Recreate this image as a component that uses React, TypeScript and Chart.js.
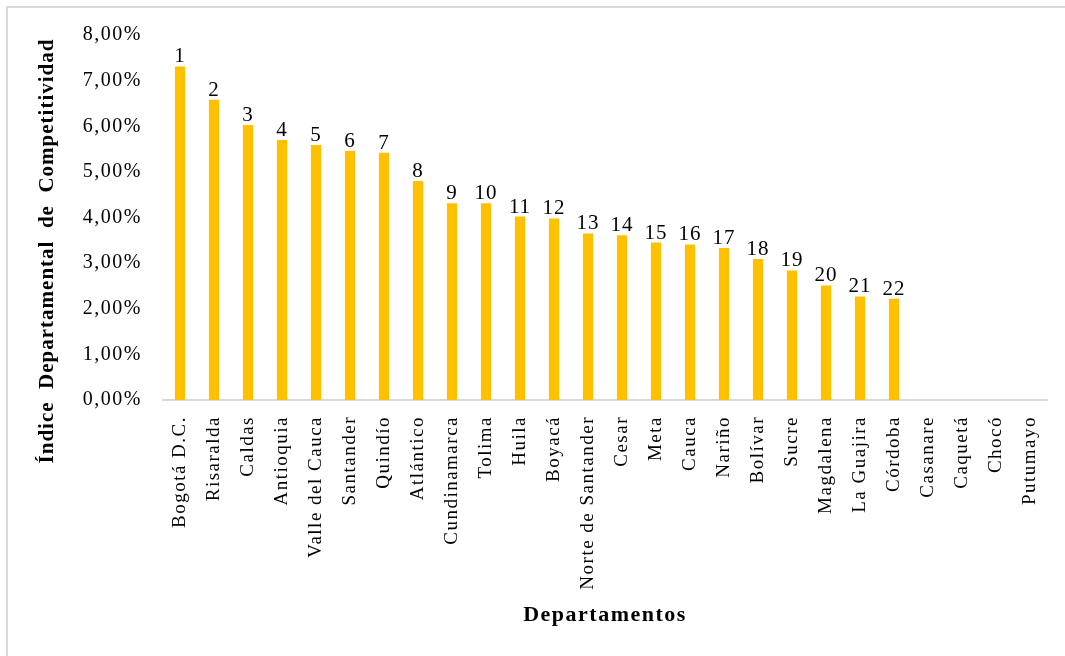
import React, { useEffect, useRef } from 'react';
import { Chart, registerables } from 'chart.js';

Chart.register(...registerables);

const departamentos: string[] = [
  'Bogotá D.C.', 'Risaralda', 'Caldas', 'Antioquia', 'Valle del Cauca', 'Santander',
  'Quindío', 'Atlántico', 'Cundinamarca', 'Tolima', 'Huila', 'Boyacá',
  'Norte de Santander', 'Cesar', 'Meta', 'Cauca', 'Nariño', 'Bolívar', 'Sucre',
  'Magdalena', 'La Guajira', 'Córdoba', 'Casanare', 'Caquetá', 'Chocó', 'Putumayo',
];

// Índice (fracción) — departamentos sin dato quedan en null
const indice: (number | null)[] = [
  0.0731, 0.0658, 0.0603, 0.0570, 0.0559, 0.0546,
  0.0542, 0.0480, 0.0431, 0.0431, 0.0402, 0.0398,
  0.0365, 0.0361, 0.0345, 0.0341, 0.0333, 0.0309, 0.0284,
  0.0251, 0.0227, 0.0222, null, null, null, null,
];

const ranking: (number | null)[] = [
  1, 2, 3, 4, 5, 6, 7, 8, 9, 10, 11, 12, 13, 14, 15, 16, 17, 18, 19, 20, 21, 22,
  null, null, null, null,
];

const yTitle = 'Índice  Departamental  de  Competitividad';
const xTitle = 'Departamentos';

const SERIF = "'Liberation Serif', 'Times New Roman', serif";
const LS = '1.5px';

export default function App() {
  const ref = useRef<HTMLCanvasElement>(null);

  useEffect(() => {
    if (!ref.current) return;
    const setLS = (chart: any) => {
      (chart.ctx as any).letterSpacing = LS;
    };
    const plugin = {
      id: 'customDraw',
      beforeUpdate: setLS,
      beforeLayout: setLS,
      beforeDraw(chart: any) {
        setLS(chart);
        const ctx = chart.ctx;
        ctx.save();
        ctx.strokeStyle = '#d9d9d9';
        ctx.lineWidth = 2;
        ctx.beginPath();
        ctx.moveTo(7, chart.height);
        ctx.lineTo(7, 7);
        ctx.lineTo(chart.width, 7);
        ctx.stroke();
        ctx.restore();
      },
      afterDatasetsDraw(chart: any) {
        const ctx = chart.ctx;
        const meta = chart.getDatasetMeta(0);
        ctx.save();
        (ctx as any).letterSpacing = '1px';
        ctx.font = `21px ${SERIF}`;
        ctx.fillStyle = '#000';
        ctx.textAlign = 'center';
        ctx.textBaseline = 'alphabetic';
        meta.data.forEach((el: any, i: number) => {
          const v = indice[i];
          const r = ranking[i];
          if (v == null || r == null) return;
          ctx.fillText(String(r), el.x, el.y - 4);
        });
        ctx.restore();
      },
      afterDraw(chart: any) {
        const ctx = chart.ctx;
        const area = chart.chartArea;
        ctx.save();
        ctx.fillStyle = '#000';
        ctx.textAlign = 'center';
        ctx.textBaseline = 'middle';
        (ctx as any).letterSpacing = '1px';
        ctx.font = `bold 21px ${SERIF}`;
        ctx.translate(48, 251);
        ctx.rotate(-Math.PI / 2);
        ctx.fillText(yTitle, 0, 0);
        ctx.restore();

        ctx.save();
        ctx.fillStyle = '#000';
        ctx.textAlign = 'center';
        ctx.textBaseline = 'middle';
        (ctx as any).letterSpacing = '1.5px';
        ctx.font = `bold 22px ${SERIF}`;
        ctx.fillText(xTitle, (area.left + area.right) / 2, 615);
        ctx.restore();
      },
    };

    const chart = new Chart(ref.current, {
      type: 'bar',
      data: {
        labels: departamentos,
        datasets: [
          {
            data: indice as any,
            backgroundColor: '#FFC000',
            borderWidth: 0,
            categoryPercentage: 1,
            barPercentage: 0.3,
          },
        ],
      },
      options: {
        animation: false,
        responsive: true,
        maintainAspectRatio: false,
        layout: { padding: { top: 35, right: 18, left: 0, bottom: 0 } },
        plugins: {
          legend: { display: false },
          tooltip: { enabled: false },
        },
        scales: {
          x: {
            grid: { display: false, drawTicks: false },
            border: { display: true, color: '#d9d9d9', width: 2 },
            ticks: {
              autoSkip: false,
              minRotation: 90,
              maxRotation: 90,
              padding: 16,
              color: '#000',
              font: { family: SERIF, size: 19 },
            },
            afterFit(scale: any) {
              scale.height = 256;
              scale.paddingLeft = 0;
              scale.paddingRight = 0;
            },
          },
          y: {
            min: 0,
            max: 0.08,
            grid: { display: false, drawTicks: false },
            border: { display: false },
            ticks: {
              stepSize: 0.01,
              padding: 21,
              color: '#000',
              font: { family: SERIF, size: 20 },
              callback: (v: any) => (Number(v) * 100).toFixed(2).replace('.', ',') + '%',
            },
            afterFit(scale: any) {
              scale.width = 163;
              scale.paddingTop = 0;
              scale.paddingBottom = 0;
            },
          },
        },
      },
      plugins: [plugin],
    });
    return () => chart.destroy();
  }, []);

  return (
    <div style={{ position: 'fixed', left: 0, top: 0, width: 1065, height: 656, background: '#fff' }}>
      <canvas ref={ref} />
    </div>
  );
}
